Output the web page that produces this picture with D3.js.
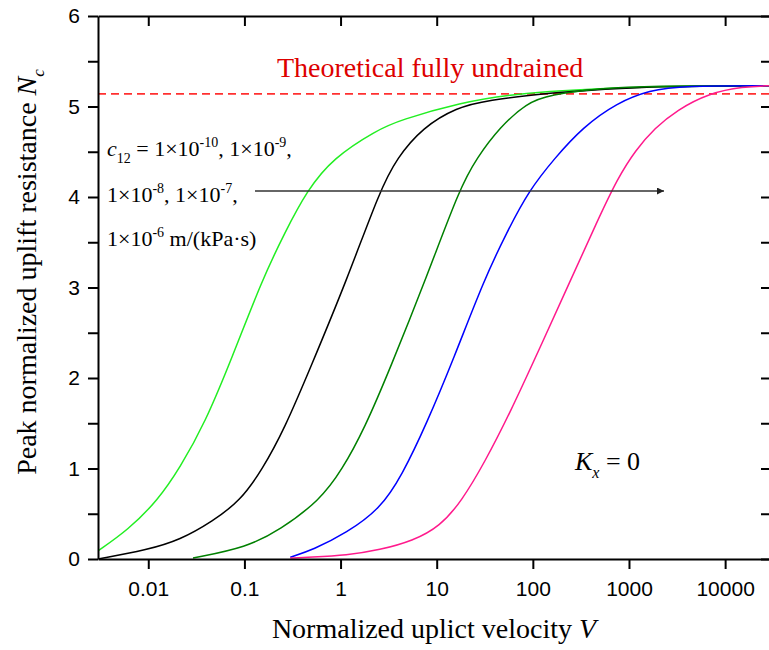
<!DOCTYPE html>
<html>
<head>
<meta charset="utf-8">
<script src="https://cdn.jsdelivr.net/npm/d3@7"></script>
<style>
  body { margin: 0; background: #fff; }
  svg { display: block; }
  .serif { font-family: "Liberation Serif", "Times New Roman", serif; }
  .axis text { font-family: "Liberation Sans", Arial, sans-serif; font-size: 21px; fill: #000; }
  .axis path, .axis line { stroke: #000; stroke-width: 2px; }
</style>
</head>
<body>
<div id="chart"></div>
<script>
// tick values
const xTicks = [0.01, 0.1, 1, 10, 100, 1000, 10000];
const yTicks = [0, 0.5, 1, 1.5, 2, 2.5, 3, 3.5, 4, 4.5, 5, 5.5, 6];

// theoretical fully undrained value
const undrainedNc = 5.14;

// c12 = 1e-10 (green)
const vGreen = [0.003, 0.00615, 0.0126, 0.0214, 0.0388, 0.0741, 0.152, 0.264, 0.447, 0.832, 2.39, 4.14, 17.4, 68.1, 1094, 30000];
const nGreen = [0.09, 0.32, 0.65, 1.01, 1.50, 2.22, 3.08, 3.61, 4.07, 4.43, 4.74, 4.85, 5.04, 5.15, 5.22, 5.23];

// c12 = 1e-9 (black)
const vBlack = [0.003, 0.0097, 0.0214, 0.0471, 0.0897, 0.152, 0.264, 0.48, 1.16, 2.56, 3.85, 7.18, 16.2, 33.2, 150, 1094, 30000];
const nBlack = [0.00, 0.10, 0.21, 0.42, 0.64, 0.98, 1.45, 2.10, 3.08, 4.07, 4.43, 4.77, 4.99, 5.07, 5.15, 5.22, 5.23];

// c12 = 1e-8 (dark green)
const vDkGreen = [0.0292, 0.106, 0.234, 0.61, 1.03, 1.79, 3.26, 7.89, 17.4, 26.1, 45.3, 86.5, 150, 497, 1644, 30000];
const nDkGreen = [0.01, 0.13, 0.32, 0.65, 0.98, 1.45, 2.10, 3.12, 4.10, 4.43, 4.77, 5.04, 5.13, 5.20, 5.23, 5.23];

// c12 = 1e-7 (blue)
const vBlue = [0.30, 0.515, 1.16, 2.56, 4.34, 7.89, 15.1, 30.9, 53.6, 90.8, 169, 330, 746, 1644, 3622, 30000];
const nBlue = [0.02, 0.10, 0.29, 0.55, 0.92, 1.50, 2.22, 3.08, 3.61, 4.07, 4.43, 4.77, 5.04, 5.18, 5.23, 5.23];

// c12 = 1e-6 (pink)
const vPink = [0.30, 0.48, 1.16, 2.56, 5.65, 10.8, 18.2, 31.6, 57.6, 118, 242, 462, 764, 1175, 1853, 3133, 6918, 15240, 30000];
const nPink = [0.01, 0.02, 0.04, 0.10, 0.20, 0.36, 0.64, 1.07, 1.61, 2.33, 3.06, 3.72, 4.21, 4.52, 4.76, 4.96, 5.15, 5.22, 5.23];

const seriesColors = ['#22ee22', '#000000', '#008000', '#0000ff', '#ff1a8c'];

const series = [
    [vGreen, nGreen],
    [vBlack, nBlack],
    [vDkGreen, nDkGreen],
    [vBlue, nBlue],
    [vPink, nPink]
].map((s, i) => ({color: seriesColors[i], points: s[0].map((v, j) => [v, s[1][j]])}));

const margin = {top: 16, left: 98},
    width = 673,
    height = 543;

const svg = d3.select('#chart')
    .append('svg')
    .attr('width', 769)
    .attr('height', 650);

const g = svg.append('g')
    .attr('transform', `translate(${margin.left},${margin.top})`);

const x = d3.scaleLog().domain([0.003, 30000]).range([0, width]);
const y = d3.scaleLinear().domain([0, 6]).range([height, 0]);

g.append('clipPath').attr('id', 'plot-clip')
    .append('rect').attr('width', width).attr('height', height);

// Curves
const line = d3.line()
    .x(d => x(d[0]))
    .y(d => y(d[1]))
    .curve(d3.curveBasis);

const plot = g.append('g').attr('clip-path', 'url(#plot-clip)');

plot.append('line')
    .attr('x1', 0).attr('x2', width)
    .attr('y1', y(undrainedNc)).attr('y2', y(undrainedNc))
    .attr('stroke', '#ff3030')
    .attr('stroke-width', 1.7)
    .attr('stroke-dasharray', '8,5');

plot.selectAll('path.curve')
    .data(series)
    .enter().append('path')
    .attr('class', 'curve')
    .attr('fill', 'none')
    .attr('stroke', d => d.color)
    .attr('stroke-width', 1.5)
    .attr('d', d => line(d.points));

// Axes
const fmtY = d => Number.isInteger(d) ? d : '';

g.append('g')
    .attr('class', 'axis')
    .attr('transform', `translate(0,${height})`)
    .call(d3.axisBottom(x).tickValues(xTicks).tickFormat(d3.format('')).tickSize(10).tickSizeOuter(0).tickPadding(12));

g.append('g')
    .attr('class', 'axis')
    .call(d3.axisTop(x).tickValues(xTicks).tickFormat('').tickSize(-10).tickSizeOuter(0));

g.append('g')
    .attr('class', 'axis')
    .call(d3.axisLeft(y).tickValues(yTicks).tickFormat(fmtY).tickSize(10).tickSizeOuter(0).tickPadding(8));

g.append('g')
    .attr('class', 'axis')
    .attr('transform', `translate(${width},0)`)
    .call(d3.axisRight(y).tickValues(yTicks).tickFormat('').tickSize(-10).tickSizeOuter(0));

// rich text helper: segments of [text, kind]
function richText(sel, parts, size) {
    const small = Math.round(size * 0.62);
    let shift = 0;
    parts.forEach(([t, kind]) => {
        const target = kind === 'sub' ? size * 0.3 : kind === 'sup' ? -size * 0.4 : 0;
        const ts = sel.append('tspan')
            .attr('dy', target - shift)
            .text(t);
        shift = target;
        if (kind === 'sub' || kind === 'sup') ts.attr('font-size', small);
        if (kind === 'i') ts.attr('font-style', 'italic');
    });
}

// Theoretical label
svg.append('text')
    .attr('class', 'serif')
    .attr('x', 277).attr('y', 77)
    .attr('font-size', 28)
    .attr('fill', '#dd0000')
    .text('Theoretical fully undrained');

// c12 annotation
const ann = [
    [['c', 'i'], ['12', 'sub'], [' = 1×10', ''], ['-10', 'sup'], [', 1×10', ''], ['-9', 'sup'], [',', '']],
    [['1×10', ''], ['-8', 'sup'], [', 1×10', ''], ['-7', 'sup'], [',', '']],
    [['1×10', ''], ['-6', 'sup'], [' m/(kPa·s)', '']]
];
const annY = [156, 202, 246];
ann.forEach((parts, i) => {
    const t = svg.append('text')
        .attr('class', 'serif')
        .attr('x', 107).attr('y', annY[i])
        .attr('font-size', 22)
        .attr('fill', '#000');
    richText(t, parts, 22);
});

// arrow
svg.append('defs').append('marker')
    .attr('id', 'arrowhead')
    .attr('viewBox', '0 0 10 10')
    .attr('refX', 10).attr('refY', 5)
    .attr('markerWidth', 10).attr('markerHeight', 7)
    .attr('markerUnits', 'userSpaceOnUse')
    .attr('orient', 'auto')
    .append('path').attr('d', 'M0,0L10,5L0,10Z').attr('fill', '#222');

svg.append('line')
    .attr('x1', 255).attr('y1', 191)
    .attr('x2', 664).attr('y2', 191)
    .attr('stroke', '#333')
    .attr('stroke-width', 1.3)
    .attr('marker-end', 'url(#arrowhead)');

// Kx = 0
const kx = svg.append('text')
    .attr('class', 'serif')
    .attr('x', 575).attr('y', 470)
    .attr('font-size', 26)
    .attr('fill', '#000');
richText(kx, [['K', 'i'], ['x', 'sub'], [' = 0', '']], 26);
kx.select('tspan:nth-child(2)').attr('font-style', 'italic');

// Axis titles
const xt = svg.append('text')
    .attr('class', 'serif')
    .attr('x', 434).attr('y', 638)
    .attr('text-anchor', 'middle')
    .attr('font-size', 28)
    .attr('fill', '#000');
richText(xt, [['Normalized uplict velocity ', ''], ['V', 'i']], 28);

const yt = svg.append('text')
    .attr('class', 'serif')
    .attr('transform', 'translate(36,272) rotate(-90)')
    .attr('text-anchor', 'middle')
    .attr('font-size', 28)
    .attr('fill', '#000');
richText(yt, [['Peak normalized uplift resistance ', ''], ['N', 'i'], ['c', 'sub']], 28);
yt.select('tspan:nth-child(3)').attr('font-style', 'italic');
</script>
</body>
</html>
